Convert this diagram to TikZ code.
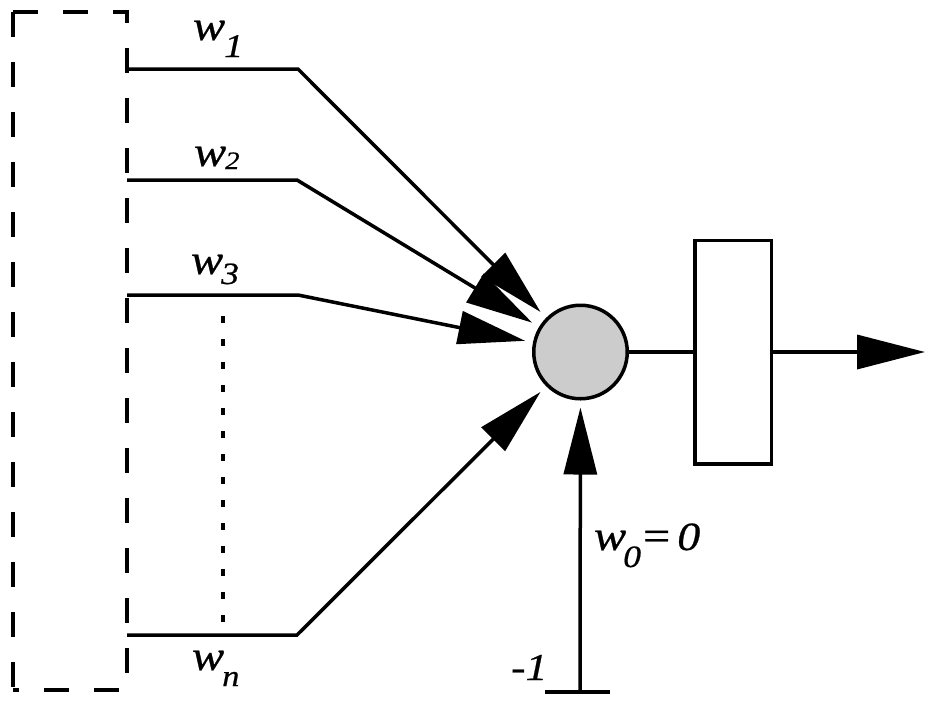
\documentclass[tikz,border=0pt]{standalone}
\usepackage{fontspec}
\newfontfamily\lbl[FakeStretch=1.15,FakeBold=0.6]{Liberation Serif}
\usetikzlibrary{arrows.meta}
\definecolor{nodegray}{HTML}{CCCCCC}
\newcommand{\wlab}[4]{{\lbl\itshape\fontsize{42}{42}\selectfont w\kern#4pt\raisebox{-#2pt}{\fontsize{#3}{#3}\selectfont #1}}}
\begin{document}
\begin{tikzpicture}[x=1pt,y=-1pt,
  wire/.style={line width=3.5pt},
  arr/.style={wire,-{Triangle[length=67pt,width=33pt]},shorten >=8pt},
  dashbox/.style={line width=3.5pt,dash pattern=on 25pt off 25pt},
  lab/.style={anchor=base west,inner sep=0pt,outer sep=0pt},
]
\useasboundingbox (0,0) rectangle (939,716);
% dashed input frame
\draw[dashbox] (13,12) -- (13,690);
\draw[dashbox] (13,12) -- (127,12) -- (127,690) -- (13,690);
% summation node and activation box
\node[circle,draw,line width=3.5pt,fill=nodegray,minimum size=93.5pt,inner sep=0pt] (sum) at (580.5,352) {};
\node[draw,line width=3.5pt,minimum width=76.5pt,minimum height=223.5pt,inner sep=0pt] (act) at (733,352) {};
% input lines
\coordinate (i1) at (127,69);  \coordinate (b1) at (298,69);
\coordinate (i2) at (127,180); \coordinate (b2) at (297,180);
\coordinate (i3) at (127,295); \coordinate (b3) at (298,295);
\coordinate (in) at (127,635); \coordinate (bn) at (297,635);
\draw[arr] (i1) -- (b1) -- (sum);
\draw[arr] (i2) -- (b2) -- (sum);
\draw[arr] (i3) -- (b3) -- (sum);
\draw[arr] (in) -- (bn) -- (sum);
% dots
\coordinate (d1) at (223,316); \coordinate (d2) at (223,622);
\draw[line width=4pt,dash pattern=on 7pt off 16pt] (d1) -- (d2);
% bias
\coordinate (m) at (580,692);
\coordinate (gl) at (545,692); \coordinate (gr) at (610,692);
\draw[arr,shorten >=7pt] (m) -- (sum);
\draw[wire] (gl) -- (gr);
% output
\coordinate (out) at (925,352);
\draw[wire] (sum) -- (act);
\draw[wire,-{Triangle[length=68pt,width=34pt]}] (act) -- (out);
% labels
\node[lab] (lw1) at (193,40) {\wlab{1}{17}{33}{-1}};
\node[lab] (lw2) at (194,166) {\wlab{2}{3}{25}{-1}};
\node[lab] (lw3) at (191,274) {\wlab{3}{10}{31}{-2}};
\node[lab] (lwn) at (192,670) {\wlab{n}{16}{30}{-2}};
\node[lab] (lw0) at (594,550) {\wlab{0}{17}{31}{-3}\kern2pt{\lbl\fontsize{42}{42}\selectfont=}\kern7pt{\lbl\itshape\fontsize{40}{40}\selectfont 0}};
\node[lab] (lm1) at (511,680) {\lbl\itshape\fontsize{38}{38}\selectfont -1};
\end{tikzpicture}
\end{document}
